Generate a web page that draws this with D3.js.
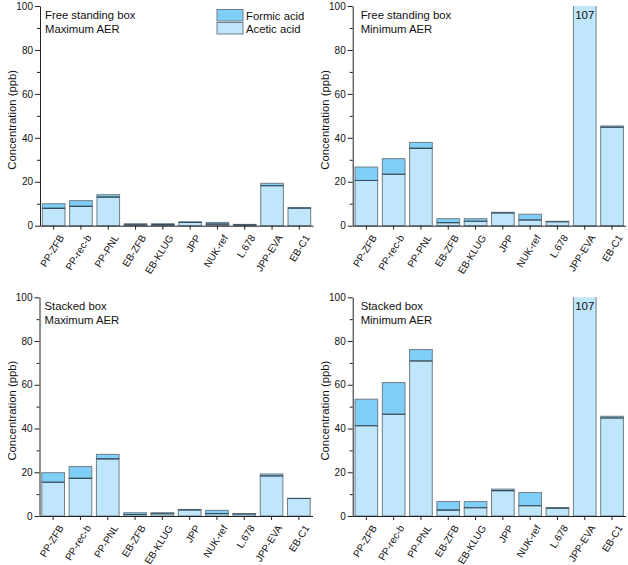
<!DOCTYPE html>
<html>
<head>
<meta charset="utf-8">
<script src="https://cdn.jsdelivr.net/npm/d3@7"></script>
<style>
  body { margin: 0; background: #fff; }
  svg text { font-family: "Liberation Sans", Arial, sans-serif; fill: #111; }
  .axis path, .axis line { stroke: #222; }
  .axis text { font-size: 10px; }
</style>
</head>
<body>
<svg id="chart" width="628" height="565"></svg>
<script>
const categories = ["PP-ZFB", "PP-rec-b", "PP-PNL", "EB-ZFB", "EB-KLUG", "JPP", "NUK-ref", "L.678", "JPP-EVA", "EB-C1"]
const yTicks = [0, 20, 40, 60, 80, 100]
const yMinor = [10, 30, 50, 70, 90]

// acetic / formic in ppb
const freeMaxAcetic = [7.9, 8.8, 13.0, 0.4, 0.5, 1.5, 0.7, 0.4, 18.2, 8.0]
const freeMaxFormic = [2.1, 2.6, 1.1, 0.5, 0.4, 0.2, 0.8, 0.2, 1.1, 0.2]
const freeMinAcetic = [20.6, 23.4, 35.2, 1.4, 2.0, 5.8, 2.6, 1.8, 105, 44.8]
const freeMinFormic = [6.1, 7.1, 2.7, 1.8, 1.2, 0.3, 2.6, 0.2, 2, 0.6]
const stackMaxAcetic = [15.4, 17.2, 26.1, 0.7, 1.0, 2.8, 1.1, 0.9, 18.3, 8.0]
const stackMaxFormic = [4.4, 5.4, 2.1, 0.8, 0.5, 0.2, 1.5, 0.2, 0.9, 0.1]
const stackMinAcetic = [41.3, 46.5, 70.9, 2.7, 3.8, 11.6, 4.7, 3.6, 105, 44.8]
const stackMinFormic = [12.1, 14.5, 5.2, 3.9, 2.8, 0.7, 6.0, 0.2, 2, 0.8]

const colors = {acetic: "#bfe6fb", formic: "#80cff8", edge: "#6f7e87", split: "#344e5e"}

const panels = [
    {title: ["Free standing box", "Maximum AER"], acetic: freeMaxAcetic, formic: freeMaxFormic, x: 40, top: 6, bottom: 225.7, legend: true},
    {title: ["Free standing box", "Minimum AER"], acetic: freeMinAcetic, formic: freeMinFormic, x: 352.7, top: 6, bottom: 225.7},
    {title: ["Stacked box", "Maximum AER"], acetic: stackMaxAcetic, formic: stackMaxFormic, x: 39.5, top: 297.3, bottom: 516},
    {title: ["Stacked box", "Minimum AER"], acetic: stackMinAcetic, formic: stackMinFormic, x: 352.7, top: 297.3, bottom: 516}
]

const svg = d3.select("#chart")
const axisLen = 273

panels.forEach((p, pi) => drawPanel(p, pi))

function drawPanel(p, pi) {
    const xScale = d3.scaleBand()
        .domain(categories)
        .range([p.x, p.x + axisLen])
        .paddingInner(0.17)
        .paddingOuter(0.085)

    const yScale = d3.scaleLinear()
        .domain([0, 100])
        .range([p.bottom, p.top])

    const clipId = "clip" + pi
    svg.append("clipPath").attr("id", clipId)
        .append("rect")
        .attr("x", p.x).attr("y", p.top)
        .attr("width", axisLen).attr("height", p.bottom - p.top + 1)

    const rows = categories.map((c, i) => ({cat: c, a: p.acetic[i], f: p.formic[i], t: p.acetic[i] + p.formic[i]}))

    const g = svg.append("g").attr("clip-path", `url(#${clipId})`)

    // formic on top of acetic
    g.selectAll(".formic")
        .data(rows)
        .join("rect")
        .attr("x", d => xScale(d.cat))
        .attr("y", d => yScale(d.t))
        .attr("width", xScale.bandwidth())
        .attr("height", d => yScale(d.a) - yScale(d.t))
        .attr("fill", colors.formic)
        .attr("stroke", colors.edge)
        .attr("stroke-width", 1)

    g.selectAll(".acetic")
        .data(rows)
        .join("rect")
        .attr("x", d => xScale(d.cat))
        .attr("y", d => yScale(d.a))
        .attr("width", xScale.bandwidth())
        .attr("height", d => yScale(0) - yScale(d.a))
        .attr("fill", colors.acetic)
        .attr("stroke", colors.edge)
        .attr("stroke-width", 1)

    g.selectAll(".split")
        .data(rows.filter(d => d.t <= 100))
        .join("line")
        .attr("x1", d => xScale(d.cat))
        .attr("x2", d => xScale(d.cat) + xScale.bandwidth())
        .attr("y1", d => yScale(d.a))
        .attr("y2", d => yScale(d.a))
        .attr("stroke", colors.split)
        .attr("stroke-width", 1.1)

    // values beyond the axis get written in the bar
    svg.selectAll(null)
        .data(rows.filter(d => d.t > 100))
        .join("text")
        .attr("x", d => xScale(d.cat) + xScale.bandwidth() / 2)
        .attr("y", p.top + 13)
        .attr("text-anchor", "middle")
        .style("font-size", "11.5px")
        .text(d => Math.round(d.t))

    // axes
    svg.append("g")
        .attr("class", "axis")
        .attr("transform", `translate(${p.x},0)`)
        .call(d3.axisLeft(yScale).tickValues(yTicks).tickSize(5).tickSizeOuter(0).tickPadding(2))

    svg.append("g")
        .attr("class", "axis")
        .attr("transform", `translate(${p.x},0)`)
        .call(d3.axisLeft(yScale).tickValues(yMinor).tickSize(3).tickSizeOuter(0).tickFormat(""))
        .select(".domain").remove()

    const xAxis = svg.append("g")
        .attr("class", "axis")
        .attr("transform", `translate(0,${p.bottom})`)
        .call(d3.axisBottom(xScale).tickSize(4).tickSizeOuter(0))

    xAxis.selectAll("text")
        .attr("text-anchor", "end")
        .attr("x", 0)
        .attr("y", 0)
        .attr("dy", "0.35em")
        .attr("transform", "translate(8,10) rotate(-58)")

    // y label
    svg.append("text")
        .attr("transform", `translate(${p.x - 24},${(p.top + p.bottom) / 2 + 4}) rotate(-90)`)
        .attr("text-anchor", "middle")
        .style("font-size", "11.3px")
        .text("Concentration (ppb)")

    // panel title
    svg.append("text")
        .attr("x", p.x + 5 + (pi % 2 ? 3 : 0))
        .attr("y", p.top + 13)
        .style("font-size", "11.3px")
        .text(p.title[0])
    svg.append("text")
        .attr("x", p.x + 5 + (pi % 2 ? 3 : 0))
        .attr("y", p.top + 26.5)
        .style("font-size", "11.3px")
        .text(p.title[1])

    if (p.legend) createLegend(p.x + 177, p.top + 3.5)
}

function createLegend(x, y) {
    const items = [["Formic acid", colors.formic], ["Acetic acid", colors.acetic]]
    items.forEach((it, i) => {
        svg.append("rect")
            .attr("x", x).attr("y", y + i * 13)
            .attr("width", 26).attr("height", 11.5)
            .attr("fill", it[1])
            .attr("stroke", colors.edge)
        svg.append("text")
            .attr("x", x + 29).attr("y", y + i * 13 + 10)
            .style("font-size", "11.3px")
            .text(it[0])
    })
}
</script>
</body>
</html>
